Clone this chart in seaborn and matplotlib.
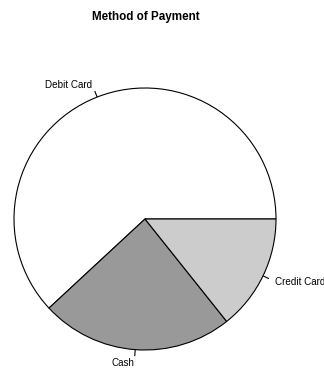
import numpy as np
import matplotlib
matplotlib.use("Agg")
import matplotlib.pyplot as plt
import seaborn as sns

# data
labels = ["Debit Card", "Cash", "Credit Card"]
counts = [13, 5, 3]
slice_colors = ["#FFFFFF", "#999999", "#CCCCCC"]
title = "Method of Payment"

sns.set_theme(style="white")
plt.rcParams["font.family"] = ["Liberation Sans", "DejaVu Sans"]

W, H = 324, 370
fig = plt.figure(figsize=(W / 100, H / 100), dpi=100)
ax = fig.add_axes([0, 0, 1, 1])

cx, cy, r = 145, H - 219, 131

wedges, texts = ax.pie(counts, labels=labels, colors=slice_colors,
                       startangle=0, counterclock=True,
                       center=(cx, cy), radius=r, labeldistance=1.1,
                       wedgeprops=dict(edgecolor="black", linewidth=0.8),
                       textprops=dict(fontsize=7.1, color="black"),
                       frame=False)

# short tick marks from the rim to 1.05 r, like R's pie()
for w, t in zip(wedges, texts):
    mid = np.deg2rad((w.theta1 + w.theta2) / 2)
    ax.plot([cx + r * np.cos(mid), cx + 1.05 * r * np.cos(mid)],
            [cy + r * np.sin(mid), cy + 1.05 * r * np.sin(mid)],
            color="black", linewidth=0.8, solid_capstyle="butt")
    t.set_ha("right" if np.cos(mid) < 0 else "left")
    t.set_va("center")

ax.set_xlim(0, W)
ax.set_ylim(0, H)
ax.set_aspect("equal")
ax.axis("off")

fig.text(145.5 / W, 1 - 16.7 / H, title, ha="center", va="center",
         fontsize=8.4, fontweight="bold", color="black")

fig.savefig("out.png", dpi=100, facecolor="white")
